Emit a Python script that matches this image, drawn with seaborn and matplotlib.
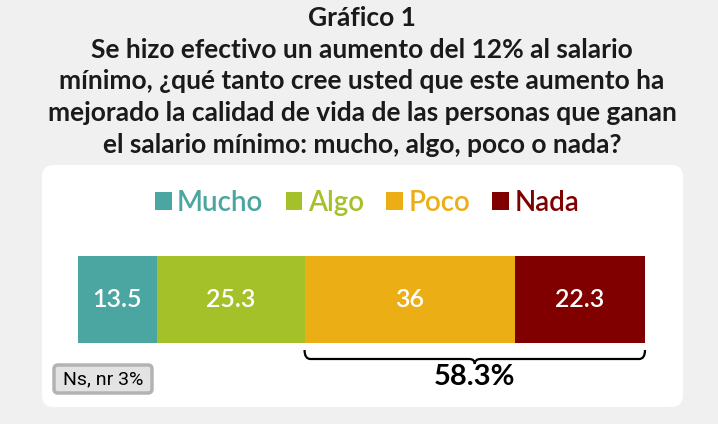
import matplotlib
matplotlib.use("Agg")
import matplotlib.pyplot as plt
import seaborn as sns
import numpy as np
from matplotlib.patches import FancyBboxPatch, Patch, PathPatch
from matplotlib.path import Path
from matplotlib.transforms import IdentityTransform, blended_transform_factory

# ---- data ----
categories = ["Mucho", "Algo", "Poco", "Nada"]
values = [13.5, 25.3, 36, 22.3]
colors = ["#4ba5a0", "#a5c12a", "#ecae15", "#800000"]
title_lines = [
    "Gráfico 1",
    "Se hizo efectivo un aumento del 12% al salario",
    "mínimo, ¿qué tanto cree usted que este aumento ha",
    "mejorado la calidad de vida de las personas que ganan",
    "el salario mínimo: mucho, algo, poco o nada?",
]
bracket_from = "Poco"
bracket_label = "58.3%"
note = "Ns, nr 3%"

W, H = 718, 424
sns.set_theme(style="white")
plt.rcParams["font.family"] = ["Lato", "DejaVu Sans"]

fig = plt.figure(figsize=(W / 100, H / 100), dpi=100, facecolor="#f0f0f0")
px = IdentityTransform()

# white rounded panel
panel = FancyBboxPatch((42, H - 407), 641, 242, boxstyle="round,pad=0,rounding_size=12",
                       transform=px, facecolor="white", edgecolor="none", zorder=-5)
fig.add_artist(panel)

# titles
ys = [18, 50, 81, 113, 145]
for line, y in zip(title_lines, ys):
    fig.text(362 / W, 1 - y / H, line, ha="center", va="center",
             fontsize=19, fontweight="bold", color="#1a1a1a")

# bar axes
ax = fig.add_axes([78 / W, 1 - 343 / H, (645 - 78) / W, (343 - 256) / H])
ax.set_facecolor("none")
cum = np.cumsum(values)
total = cum[-1]
for i in range(len(values) - 1, -1, -1):
    sns.barplot(x=[cum[i]], y=["Total"], orient="h", color=colors[i], saturation=1,
                width=1, linewidth=0, ax=ax)
ax.set_xlim(0, total)
ax.set_ylim(0.5, -0.5)
ax.axis("off")

starts = cum - np.array(values)
for s, v in zip(starts, values):
    ax.text(s + v / 2, 0, f"{v:g}", ha="center", va="center", color="white",
            fontsize=18, fontweight="semibold",
            family=["Liberation Sans Narrow", "Lato", "DejaVu Sans"])

# legend
handles = [Patch(facecolor=c, edgecolor="none") for c in colors]
fig.legend(handles, categories, loc="center", bbox_to_anchor=(367 / W, 1 - 203 / H),
           ncol=4, frameon=False, labelcolor=colors,
           prop={"family": "Lato", "size": 20, "weight": "semibold"},
           handlelength=0.6, handleheight=0.6, handletextpad=0.2, columnspacing=0.8)

# brace
i0 = categories.index(bracket_from)
x0, x1 = starts[i0], total
xc = (x0 + x1) / 2
r = 1.0
yt, yl, ytip = H - 350, H - 359, H - 364
verts = [(x0, yt), (x0, yl), (x0 + r, yl), (xc - r, yl), (xc, yl), (xc, ytip),
         (xc, yl), (xc + r, yl), (x1 - r, yl), (x1, yl), (x1, yt)]
codes = [Path.MOVETO, Path.CURVE3, Path.CURVE3, Path.LINETO, Path.CURVE3, Path.CURVE3,
         Path.CURVE3, Path.CURVE3, Path.LINETO, Path.CURVE3, Path.CURVE3]
trans = blended_transform_factory(ax.transData, px)
brace = PathPatch(Path(verts, codes), facecolor="none", edgecolor="black", lw=1.6,
                  transform=trans, clip_on=False)
ax.add_patch(brace)
ax.text(xc, H - 377, bracket_label, transform=trans, ha="center", va="center",
        fontsize=21, fontweight="bold", color="black", family="Lato")

# note box
box = FancyBboxPatch((54, H - 393), 98, 28, boxstyle="round,pad=0,rounding_size=4",
                     transform=px, facecolor="#e3e3e3", edgecolor="#b3b3b3", lw=2.5)
fig.add_artist(box)
fig.text(103 / W, 1 - 379 / H, note, ha="center", va="center", fontsize=14,
         color="black", family=["Liberation Sans Narrow", "Roboto", "DejaVu Sans"])

fig.savefig("out.png", dpi=100, facecolor=fig.get_facecolor())
